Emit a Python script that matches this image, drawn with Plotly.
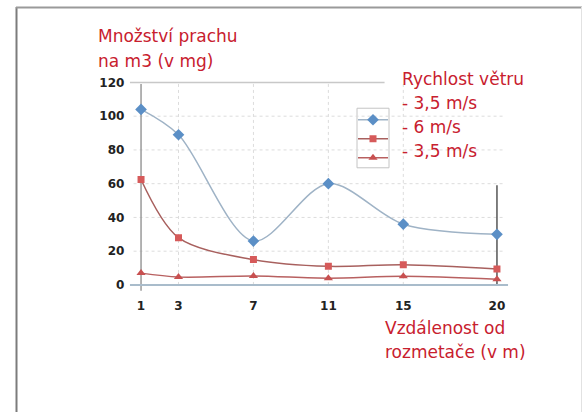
import plotly.graph_objects as go

# ---- data ----
distance = [1, 3, 7, 11, 15, 20]
series_names = ["- 3,5 m/s", "- 6 m/s", "- 3,5 m/s"]
dust_a = [104, 89, 26, 60, 36, 30]
dust_b = [62.5, 28, 15, 11, 12, 9.5]
dust_c = [7, 4.7, 5.3, 4, 5.1, 3.4]
y_ticks = [0, 20, 40, 60, 80, 100, 120]
x_ticks = [1, 3, 7, 11, 15, 20]
y_grid = [20, 40, 60, 80, 100]
x_grid = [3, 7, 11, 15]
title_lines = ["Množství prachu", "na m3 (v mg)"]
legend_title = "Rychlost větru"
xtitle_lines = ["Vzdálenost od", "rozmetače (v m)"]

W, H = 583, 412
RED = "#c8202e"
FONT = "DejaVu Sans, Verdana, sans-serif"

def px(x):
    return x / W

def py(y):
    return (H - y) / H

fig = go.Figure()

styles = [
    dict(marker=dict(symbol="diamond", size=9, color="#5b8fc6"), line=dict(color="#9fb3c6", width=1.5, shape="spline", smoothing=0.9)),
    dict(marker=dict(symbol="square", size=7, color="#d65a5a"), line=dict(color="#a8605e", width=1.5, shape="spline", smoothing=0.9)),
    dict(marker=dict(symbol="triangle-up", size=8, color="#c85050"), line=dict(color="#b86060", width=1.5, shape="spline", smoothing=0.9)),
]
for vals, name, st in zip([dust_a, dust_b, dust_c], series_names, styles):
    fig.add_trace(go.Scatter(x=distance, y=vals, name="", meta=name, mode="lines+markers",
                             hovertemplate="%{meta}<br>%{x} m: %{y} mg<extra></extra>",
                             marker=st["marker"], line=st["line"], showlegend=True))

shapes = []
# dotted grid
for g in y_grid:
    shapes.append(dict(type="line", xref="x", yref="y", x0=0.6, x1=20.4, y0=g, y1=g,
                       line=dict(color="#dcdcdc", width=1, dash="dot"), layer="below"))
for g in x_grid:
    shapes.append(dict(type="line", xref="x", yref="y", x0=g, x1=g, y0=0, y1=120,
                       line=dict(color="#dcdcdc", width=1, dash="dot"), layer="below"))
# top line
shapes.append(dict(type="line", xref="x", yref="y", x0=0.4, x1=14.0, y0=120, y1=120,
                   line=dict(color="#c8c8c8", width=1.5), layer="below"))
# left axis
shapes.append(dict(type="line", xref="x", yref="y", x0=1, x1=1, y0=-3.5, y1=119,
                   line=dict(color="#9a9a9a", width=1.5), layer="below"))
# right line
shapes.append(dict(type="line", xref="x", yref="y", x0=20, x1=20, y0=0, y1=59,
                   line=dict(color="#555555", width=1.5), layer="below"))
# bottom axis
shapes.append(dict(type="line", xref="x", yref="y", x0=0.4, x1=20.6, y0=0, y1=0,
                   line=dict(color="#a9bccb", width=2), layer="below"))
# legend box
shapes.append(dict(type="rect", xref="paper", yref="paper", x0=px(357), x1=px(389), y0=py(166), y1=py(106),
                   line=dict(color="#c4c4c4", width=1), fillcolor="white", layer="below"))
# frame: left, top, right
shapes.append(dict(type="line", xref="paper", yref="paper", x0=px(16.5), x1=px(16.5), y0=py(430), y1=py(4),
                   line=dict(color="#7c7c7c", width=2)))
shapes.append(dict(type="line", xref="paper", yref="paper", x0=px(16), x1=px(582), y0=py(4.5), y1=py(4.5),
                   line=dict(color="#9a9a9a", width=2)))
shapes.append(dict(type="line", xref="paper", yref="paper", x0=px(581.5), x1=px(581.5), y0=py(430), y1=py(4),
                   line=dict(color="#e2e2e2", width=1)))

annotations = []
def txt(t, x, y, size=17):
    annotations.append(dict(text=t, xref="paper", yref="paper", x=px(x), y=py(y),
                            xanchor="left", yanchor="middle", showarrow=False, borderpad=0,
                            font=dict(family=FONT, size=size, color=RED)))

txt(title_lines[0], 97, 33)
txt(title_lines[1], 97, 58)
txt(legend_title, 401, 77)
for i, n in enumerate(series_names):
    txt(n, 401, 101 + 24 * i)
txt(xtitle_lines[0], 384, 327)
txt(xtitle_lines[1], 384, 352)

fig.update_layout(
    width=W, height=H,
    margin=dict(l=0, r=0, t=0, b=0),
    paper_bgcolor="white", plot_bgcolor="white",
    shapes=shapes, annotations=annotations,
    showlegend=True,
    legend=dict(x=px(353), y=py(103), xanchor="left", yanchor="top",
                borderwidth=0, bgcolor="rgba(0,0,0,0)",
                font=dict(size=9, color="rgba(0,0,0,0)"), itemwidth=30,
                tracegroupgap=0, itemsizing="trace"),
    xaxis=dict(domain=[px(129.8), px(508.2)], range=[0.4, 20.6], showgrid=False, zeroline=False,
               showline=False, tickvals=x_ticks, ticktext=[str(v) for v in x_ticks],
               tickfont=dict(family="DejaVu Sans", size=12, color="#222", weight=700),
               ticks="outside", ticklen=1, tickcolor="rgba(0,0,0,0)"),
    yaxis=dict(domain=[py(292.5), py(76.6)], range=[-5, 122], showgrid=False, zeroline=False,
               showline=False, tickvals=y_ticks, ticktext=[str(v) for v in y_ticks],
               tickfont=dict(family="DejaVu Sans", size=12, color="#222", weight=700),
               ticks="outside", ticklen=2, tickcolor="rgba(0,0,0,0)"),
)

fig.write_html("out.html", config={"displayModeBar": False},
               post_script="document.body.style.margin='0';")
